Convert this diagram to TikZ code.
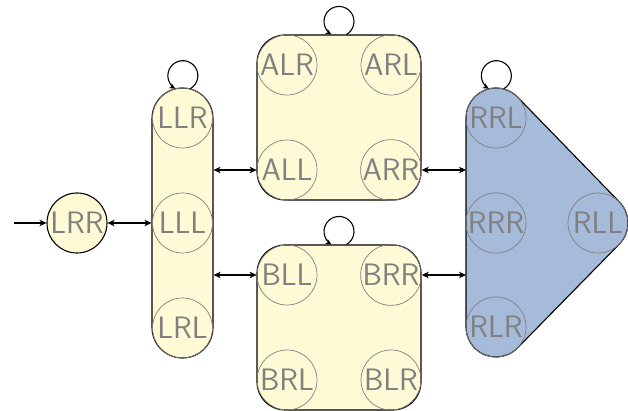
\documentclass[tikz,border=0pt]{standalone}
\usepackage{fontspec}
\usetikzlibrary{arrows.meta,calc}
\definecolor{boxyellow}{RGB}{255,250,214}
\definecolor{boxblue}{RGB}{166,187,218}
\definecolor{stategray}{RGB}{128,128,128}
\begin{document}
\begin{tikzpicture}[x=1pt,y=1pt,
  state/.style={circle, draw=stategray, line width=0.7pt, minimum size=60pt, inner sep=0pt,
    text=stategray, font=\sffamily\fontsize{31}{34}\selectfont},
  group/.style={draw=black, line width=1.1pt, fill=boxyellow, inner sep=0pt},
  link/.style={line width=1.2pt, {Stealth[length=7pt,width=6.5pt,inset=2pt]}-{Stealth[length=7pt,width=6.5pt,inset=2pt]}},
  single/.style={line width=1.2pt, -{Stealth[length=7pt,width=6.5pt,inset=2pt]}},
  self/.style={line width=1.1pt, -{Stealth[length=6pt,width=5.5pt,inset=1.8pt]}}]
\useasboundingbox (0,0) rectangle (628,411);

% group boxes
\node[group, rounded corners=30.5pt, minimum width=61pt, minimum height=270pt] (Lbox) at (182.5,188) {};
\node[group, rounded corners=28pt, minimum width=164pt, minimum height=165pt] (Abox) at (339,293.5) {};
\node[group, rounded corners=28pt, minimum width=164pt, minimum height=165pt] (Bbox) at (339,83.5) {};

% R group shape (hull of its states)
\coordinate (pRRL) at (496,293);
\coordinate (pRRR) at (496,188);
\coordinate (pRLR) at (496,84);
\coordinate (pRLL) at (598,188);
\coordinate (Rleft) at (466,188);
\filldraw[fill=boxblue, draw=black, line width=1.1pt]
  ($(pRRL)+(180:30)$) arc[start angle=180, end angle=44.17, radius=30]
  -- ($(pRLL)+(44.17:30)$) arc[start angle=44.17, end angle=-44.17, radius=30]
  -- ($(pRLR)+(-44.17:30)$) arc[start angle=-44.17, end angle=-180, radius=30]
  -- cycle;

% states
\node[state, fill=boxyellow, draw=black, line width=1.1pt] (LRR) at (77,188) {LRR};
\node[state] (LLR) at (182.5,293) {LLR};
\node[state] (LLL) at (182.5,188) {LLL};
\node[state] (LRL) at (182.5,83) {LRL};

\node[state] (ALR) at (287,346) {ALR};
\node[state] (ARL) at (391,346) {ARL};
\node[state] (ALL) at (287,241) {ALL};
\node[state] (ARR) at (391,241) {ARR};

\node[state] (BLL) at (287,136) {BLL};
\node[state] (BRR) at (391,136) {BRR};
\node[state] (BRL) at (287,31) {BRL};
\node[state] (BLR) at (391,31) {BLR};

\node[state] (RRL) at (pRRL) {RRL};
\node[state] (RRR) at (pRRR) {RRR};
\node[state] (RLR) at (pRLR) {RLR};
\node[state] (RLL) at (pRLL) {RLL};

% connectors
\coordinate (start) at (14,188);
\draw[single] (start) -- (LRR.west);
\draw[link] (LRR.east) -- (LRR.east -| Lbox.west);
\draw[link] (ALL.west -| Lbox.east) -- (ALL.west);
\draw[link] (BLL.west -| Lbox.east) -- (BLL.west);
\draw[link] (ARR.east) -- (ARR.east -| Rleft);
\draw[link] (BRR.east) -- (BRR.east -| Rleft);

% self loops
\draw[self] (LLR.75) arc[start angle=-60, end angle=240, radius=15];
\draw[self] ([xshift=7.5pt]Abox.north) arc[start angle=-60, end angle=240, radius=15];
\draw[self] ([xshift=7.5pt]Bbox.north) arc[start angle=-60, end angle=240, radius=15];
\draw[self] (RRL.75) arc[start angle=-60, end angle=240, radius=15];
\end{tikzpicture}
\end{document}
